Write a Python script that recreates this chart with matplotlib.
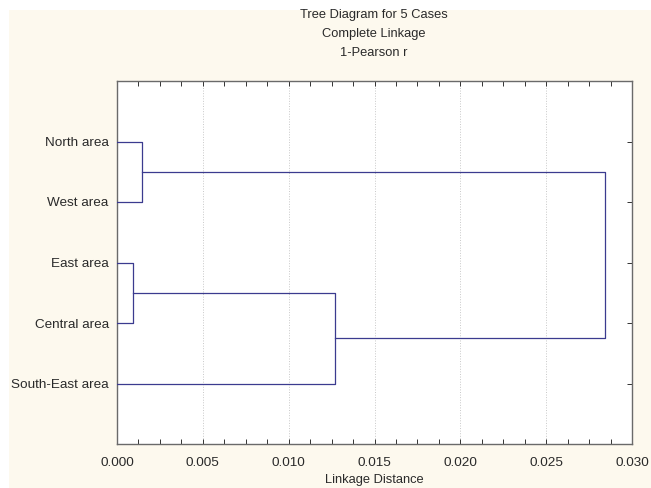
import matplotlib.pyplot as plt
from matplotlib.ticker import MultipleLocator

plt.rcParams['font.family'] = ['Liberation Sans', 'DejaVu Sans']

# cases, top to bottom
cases = ['North area', 'West area', 'East area', 'Central area', 'South-East area']
# merges: (left node, right node, linkage distance); nodes 0-4 are cases
merges = [
    (2, 3, 0.00093),   # East + Central
    (0, 1, 0.00146),   # North + West
    (5, 4, 0.0127),    # (East, Central) + South-East
    (6, 7, 0.0284),    # all
]
xticks = [0.000, 0.005, 0.010, 0.015, 0.020, 0.025, 0.030]

line_col = '#3b3b8f'
bg = '#fdf9ee'
txt = '#2a2a2a'

fig = plt.figure(figsize=(6.51, 4.88), dpi=100, facecolor='white')
# cream panel behind everything
fig.patches.append(plt.Rectangle((9 / 651, 0), 1, 1 - 10 / 488, transform=fig.transFigure,
                                 facecolor=bg, edgecolor='none', zorder=-1))
ax = fig.add_axes([117 / 651, 1 - 444 / 488, 515 / 651, 363 / 488])
ax.set_facecolor('white')

# node positions: (y, x)
pos = {i: (i + 1, 0.0) for i in range(len(cases))}
for k, (a, b, h) in enumerate(merges):
    ya, xa = pos[a]
    yb, xb = pos[b]
    ax.plot([xa, h, h, xb], [ya, ya, yb, yb], color=line_col, lw=0.9, zorder=3)
    pos[len(cases) + k] = ((ya + yb) / 2, h)

ax.set_xlim(0, 0.030)
ax.set_ylim(6, 0)
ax.set_yticks(range(1, len(cases) + 1))
ax.set_yticklabels(cases)
ax.set_xticks(xticks)
ax.set_xticklabels([f'{v:.3f}' for v in xticks])
ax.xaxis.set_minor_locator(MultipleLocator(0.00125))

ax.tick_params(axis='x', which='both', direction='in', top=True, bottom=True,
               length=3.5, width=0.7, labelsize=9.7, pad=9, colors='#333333', labelcolor=txt)
ax.tick_params(axis='y', which='both', direction='in', left=False, right=True,
               length=3.5, width=0.7, labelsize=9.7, pad=6, colors='#333333', labelcolor=txt)

ax.grid(axis='x', which='major', color='#c8c8c8', linestyle=':', lw=0.7)
for s in ax.spines.values():
    s.set_color('#6a6a6a')
    s.set_linewidth(1.0)

ax.set_xlabel('Linkage Distance', fontsize=9.3, color=txt, labelpad=4)
fig.text(374 / 651, 1 - 15 / 488, 'Tree Diagram for 5 Cases', ha='center', va='center', fontsize=9.3, color=txt)
fig.text(374 / 651, 1 - 34 / 488, 'Complete Linkage', ha='center', va='center', fontsize=9.3, color=txt)
fig.text(374 / 651, 1 - 53 / 488, '1-Pearson r', ha='center', va='center', fontsize=9.3, color=txt)

fig.savefig('out.png', dpi=100, facecolor=fig.get_facecolor())
